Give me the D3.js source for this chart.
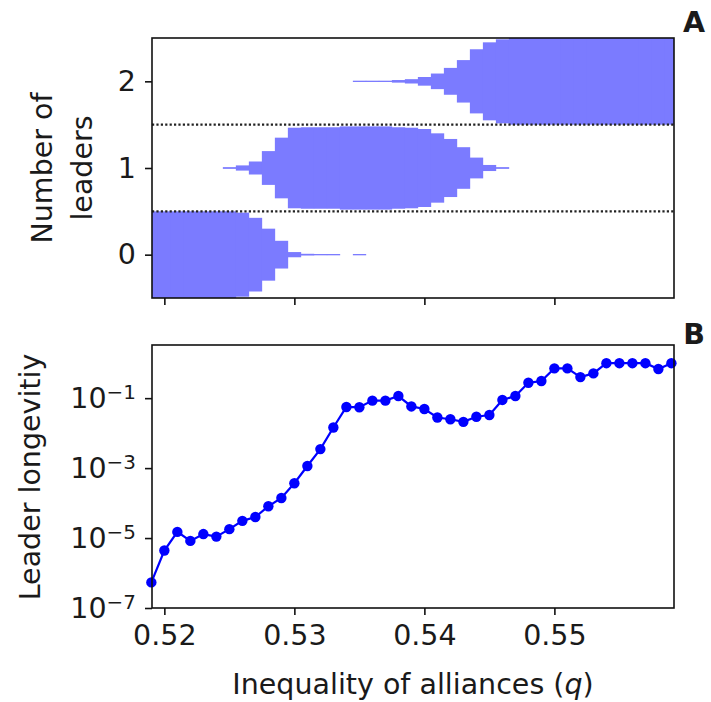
<!DOCTYPE html>
<html><head><meta charset="utf-8">
<script src="https://cdn.jsdelivr.net/npm/d3@7"></script>
<style>
body{margin:0;background:#fff}
text{font-family:"DejaVu Sans",sans-serif;fill:#1a1a1a}
</style>
</head><body><svg id="c" width="711" height="702"></svg>
<script>
// ---------- data ----------
const qValues = [0.519,0.520,0.521,0.522,0.523,0.524,0.525,0.526,0.527,0.528,0.529,0.530,0.531,0.532,0.533,0.534,0.535,0.536,0.537,0.538,0.539,0.540,0.541,0.542,0.543,0.544,0.545,0.546,0.547,0.548,0.549,0.550,0.551,0.552,0.553,0.554,0.555,0.556,0.557,0.558,0.559];
// probability of 0, 1, 2 leaders at each q
const leaders0 = [1,1,1,1,1,1,1,0.97,0.85,0.60,0.32,0.06,0.02,0.015,0.015,0,0.015,0,0,0,0,0,0,0,0,0,0,0,0,0,0,0,0,0,0,0,0,0,0,0,0];
const leaders1 = [0,0,0,0,0,0,0.02,0.06,0.15,0.39,0.70,0.93,0.94,0.94,0.94,0.96,0.96,0.96,0.96,0.94,0.93,0.90,0.80,0.67,0.48,0.24,0.07,0.02,0,0,0,0,0,0,0,0,0,0,0,0,0];
const leaders2 = [0,0,0,0,0,0,0,0,0,0,0,0,0,0,0,0,0.015,0.015,0.015,0.03,0.05,0.10,0.18,0.31,0.49,0.74,0.90,0.97,1,1,1,1,1,1,1,1,1,1,1,1,1];
const longevity = [5.4e-7,4.4e-6,1.5e-5,8.3e-6,1.3e-5,1.1e-5,1.8e-5,3.1e-5,4.0e-5,8.1e-5,1.4e-4,3.7e-4,1.15e-3,3.5e-3,1.45e-2,5.6e-2,5.5e-2,8.5e-2,8.5e-2,0.115,5.8e-2,4.9e-2,2.8e-2,2.5e-2,2.1e-2,2.95e-2,3.3e-2,8.9e-2,0.115,0.275,0.31,0.71,0.71,0.40,0.51,1.0,1.0,1.0,1.0,0.68,1.0];
const xTicks = [0.52,0.53,0.54,0.55];
const xTickLabels = ["0.52","0.53","0.54","0.55"];
const leaderTicks = [0,1,2];
const separators = [0.5,1.5];
const longevityTicks = [1e-7,1e-5,1e-3,1e-1];
const longevityTickExp = ["−7","−5","−3","−1"];

// ---------- layout ----------
const L = 152, R = 674;
const top1 = 38, bot1 = 298, top2 = 345, bot2 = 608;
const FS = 28.5;
const svg = d3.select("#c");
svg.append("rect").attr("width",711).attr("height",702).attr("fill","#fff");

const x = d3.scaleLinear().domain([0.51905,0.5592]).range([L,R]);
const yA = d3.scaleLinear().domain([-0.5,2.5]).range([bot1,top1]);
const yB = d3.scaleLog().domain([1e-7,Math.pow(10,0.52)]).range([bot2,top2]);
const halfW = 0.0005;

// ---------- panel A ----------
svg.append("clipPath").attr("id","clipA").append("rect")
  .attr("x",L).attr("y",top1).attr("width",R-L).attr("height",bot1-top1);
const gA = svg.append("g").attr("clip-path","url(#clipA)");
[leaders0,leaders1,leaders2].forEach((arr,n)=>{
  gA.selectAll(null).data(qValues.map((q,i)=>({q,p:arr[i]})).filter(d=>d.p>0))
    .enter().append("rect")
    .attr("x",d=>x(d.q-halfW))
    .attr("width",d=>x(d.q+halfW)-x(d.q-halfW)+0.3)
    .attr("y",d=>yA(n+d.p/2))
    .attr("height",d=>yA(n-d.p/2)-yA(n+d.p/2))
    .attr("fill","#7b7bff");
});
separators.forEach(s=>{
  svg.append("line").attr("x1",L).attr("x2",R).attr("y1",yA(s)).attr("y2",yA(s))
    .attr("stroke","#222").attr("stroke-width",2.2).attr("stroke-dasharray","2.2,2.2");
});

function frame(t,b){
  svg.append("rect").attr("x",L).attr("y",t).attr("width",R-L).attr("height",b-t)
    .attr("fill","none").attr("stroke","#111").attr("stroke-width",1.6);
}
frame(top1,bot1);

const axA_x = svg.append("g").attr("transform",`translate(0,${bot1})`)
  .call(d3.axisBottom(x).tickValues(xTicks).tickSize(7).tickFormat(""));
const axA_y = svg.append("g").attr("transform",`translate(${L},0)`)
  .call(d3.axisLeft(yA).tickValues(leaderTicks).tickSize(7).tickPadding(9).tickFormat(d3.format("d")));
axA_y.selectAll("text").style("font-size",FS+"px").attr("fill","#1a1a1a");

// ---------- panel B ----------
const line = d3.line().x((d,i)=>x(qValues[i])).y(d=>yB(d));
const gB = svg.append("g");
gB.append("path").datum(longevity).attr("d",line).attr("fill","none")
  .attr("stroke","#0000ff").attr("stroke-width",2.2);
gB.selectAll("circle").data(longevity).enter().append("circle")
  .attr("cx",(d,i)=>x(qValues[i])).attr("cy",d=>yB(d)).attr("r",5.2).attr("fill","#0000ff");
frame(top2,bot2);

const axB_x = svg.append("g").attr("transform",`translate(0,${bot2})`)
  .call(d3.axisBottom(x).tickValues(xTicks).tickSize(7).tickPadding(10).tickFormat((d,i)=>xTickLabels[i]));
axB_x.selectAll("text").style("font-size",FS+"px").attr("fill","#1a1a1a");
const axB_y = svg.append("g").attr("transform",`translate(${L},0)`)
  .call(d3.axisLeft(yB).tickValues(longevityTicks).tickSize(7).tickPadding(9).tickFormat(""));
axB_y.selectAll(".tick").each(function(d,i){
  const t = d3.select(this).append("text").attr("x",-16).attr("dy","0.32em")
    .attr("text-anchor","end").style("font-size",FS+"px").attr("fill","#1a1a1a");
  t.append("tspan").text("10");
  t.append("tspan").attr("dy","-0.45em").style("font-size",(FS*0.7)+"px").text(longevityTickExp[i]);
});

[axA_x,axA_y,axB_x,axB_y].forEach(g=>{
  g.select(".domain").remove();
  g.selectAll("line").attr("stroke","#111").attr("stroke-width",1.6);
});

// ---------- labels ----------
svg.append("text").attr("transform","translate(42,168) rotate(-90)").attr("text-anchor","middle")
  .attr("dy","0.35em").style("font-size",FS+"px").text("Number of");
svg.append("text").attr("transform","translate(82,168) rotate(-90)").attr("text-anchor","middle")
  .attr("dy","0.35em").style("font-size",FS+"px").text("leaders");
svg.append("text").attr("transform","translate(30,477) rotate(-90)").attr("text-anchor","middle")
  .attr("dy","0.35em").style("font-size",FS+"px").text("Leader longevitiy");
const xl = svg.append("text").attr("x",413).attr("y",694).attr("text-anchor","middle").style("font-size",FS+"px");
xl.append("tspan").text("Inequality of alliances (");
xl.append("tspan").style("font-style","italic").text("q");
xl.append("tspan").text(")");
svg.append("text").attr("x",694).attr("y",22).attr("dy","0.35em").attr("text-anchor","middle")
  .style("font-size",FS+"px").style("font-weight","bold").text("A");
svg.append("text").attr("x",694).attr("y",334).attr("dy","0.35em").attr("text-anchor","middle")
  .style("font-size",FS+"px").style("font-weight","bold").text("B");
</script></body></html>
